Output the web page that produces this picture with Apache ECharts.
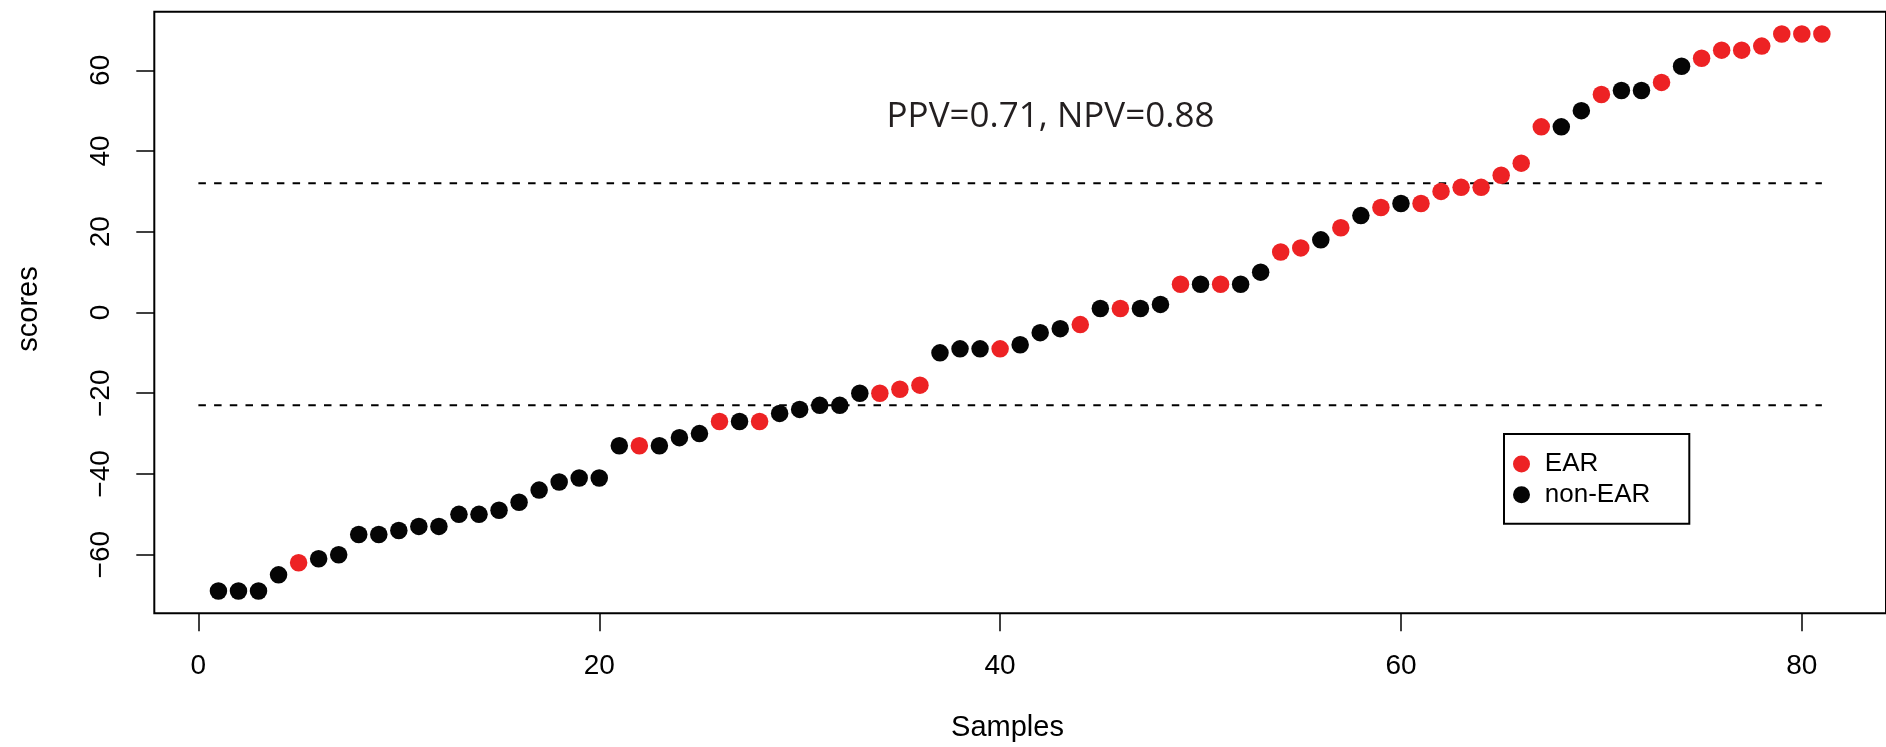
<!DOCTYPE html>
<html>
<head>
<meta charset="utf-8">
<script src="https://cdn.jsdelivr.net/npm/echarts@6/dist/echarts.min.js"></script>
<style>
html,body{margin:0;padding:0;background:#fff;}
#chart{width:1886px;height:747px;}
</style>
</head>
<body>
<div id="chart"></div>
<script>
// Scores of samples 1..81, sorted
const scores = [
  -69,-69,-69,-65,-62,-61,-60,-55,-55,-54,
  -53,-53,-50,-50,-49,-47,-44,-42,-41,-41,
  -33,-33,-33,-31,-30,-27,-27,-27,-25,-24,
  -23,-23,-20,-20,-19,-18,-10,-9,-9,-9,
  -8,-5,-4,-3,1,1,1,2,7,7,
  7,7,10,15,16,18,21,24,26,27,
  27,30,31,31,34,37,46,46,50,54,
  55,55,57,61,63,65,65,66,69,69,
  69
];
// 1 = EAR, 0 = non-EAR
const groups = [
  0,0,0,0,1,0,0,0,0,0,
  0,0,0,0,0,0,0,0,0,0,
  0,1,0,0,0,1,0,1,0,0,
  0,0,0,1,1,1,0,0,0,1,
  0,0,0,1,0,1,0,0,1,0,
  1,0,0,1,1,0,1,0,1,0,
  1,1,1,1,1,1,1,0,0,1,
  0,0,1,0,1,1,1,1,1,1,
  1
];
const thresholds = [32, -23];
const xTicks = [0, 20, 40, 60, 80];
const yTicks = [-60, -40, -20, 0, 20, 40, 60];
const seriesNames = ['EAR', 'non-EAR'];
const annotation = 'PPV=0.71, NPV=0.88';
const xTitle = 'Samples';
const yTitle = 'scores';

const RED = '#ED2224';
const BLACK = '#050505';
const AXFONT = "'Liberation Sans', Arial, Helvetica, sans-serif";

const n = scores.length;
const earData = [], nonData = [];
scores.forEach((s, i) => {
  (groups[i] === 1 ? earData : nonData).push([i + 1, s]);
});
const thresholdSeries = thresholds.map(t => ({
  type: 'line',
  data: [[0, t], [n, t]],
  symbol: 'none',
  silent: true,
  lineStyle: { color: '#000', width: 2, type: [7.5, 8.2] },
  z: 1
}));

const chart = echarts.init(document.getElementById('chart'), null, { renderer: 'canvas' });
chart.setOption({
  animation: false,
  backgroundColor: '#fff',
  grid: {
    left: 154.3, right: -4, top: 11.7, bottom: 133.7,
    show: true, borderColor: '#000', borderWidth: 2, backgroundColor: 'transparent'
  },
  xAxis: {
    type: 'value', min: -2.2, max: 84.2,
    axisLine: { show: false, onZero: false },
    splitLine: { show: false },
    axisTick: { show: true, customValues: xTicks, length: 18, lineStyle: { color: '#000', width: 1.5 } },
    axisLabel: { show: true, customValues: xTicks, margin: 39, fontSize: 28, color: '#000', fontFamily: AXFONT }
  },
  yAxis: {
    type: 'value', min: -74.52, max: 74.52,
    axisLine: { show: false, onZero: false },
    splitLine: { show: false },
    axisTick: { show: true, customValues: yTicks, length: 18, lineStyle: { color: '#000', width: 1.5 } },
    axisLabel: {
      show: true, customValues: yTicks, rotate: 90, margin: 39.5,
      align: 'center', verticalAlign: 'bottom', lineHeight: 28,
      fontSize: 28, color: '#000', fontFamily: AXFONT,
      formatter: v => (v < 0 ? '\u2212' + Math.abs(v) : String(v))
    }
  },
  legend: {
    data: seriesNames,
    orient: 'vertical',
    left: 1504, top: 434,
    padding: [17, 39, 16, 9],
    itemWidth: 36.6, itemHeight: 17, itemGap: 4.7,
    icon: 'circle',
    borderColor: '#000', borderWidth: 2, backgroundColor: '#fff',
    textStyle: { fontSize: 26, lineHeight: 26, color: '#000', fontFamily: AXFONT }
  },
  graphic: [
    {
      type: 'text', x: 1050.5, y: 117.5,
      style: { text: annotation, font: "35px 'Open Sans', sans-serif", fill: '#231f20', align: 'center', verticalAlign: 'middle' }
    },
    {
      type: 'text', x: 1007.5, y: 728,
      style: { text: xTitle, font: "29px " + AXFONT, fill: '#000', align: 'center', verticalAlign: 'middle' }
    },
    {
      type: 'text', x: 29, y: 309, rotation: Math.PI / 2,
      style: { text: yTitle, font: "29px " + AXFONT, fill: '#000', align: 'center', verticalAlign: 'middle' }
    }
  ],
  series: [
    {
      name: seriesNames[0], type: 'scatter', data: earData,
      symbol: 'circle', symbolSize: 17.5,
      itemStyle: { color: RED, opacity: 1 }, z: 3
    },
    {
      name: seriesNames[1], type: 'scatter', data: nonData,
      symbol: 'circle', symbolSize: 17.5,
      itemStyle: { color: BLACK, opacity: 1 }, z: 3
    },
    ...thresholdSeries
  ]
});
</script>
</body>
</html>
